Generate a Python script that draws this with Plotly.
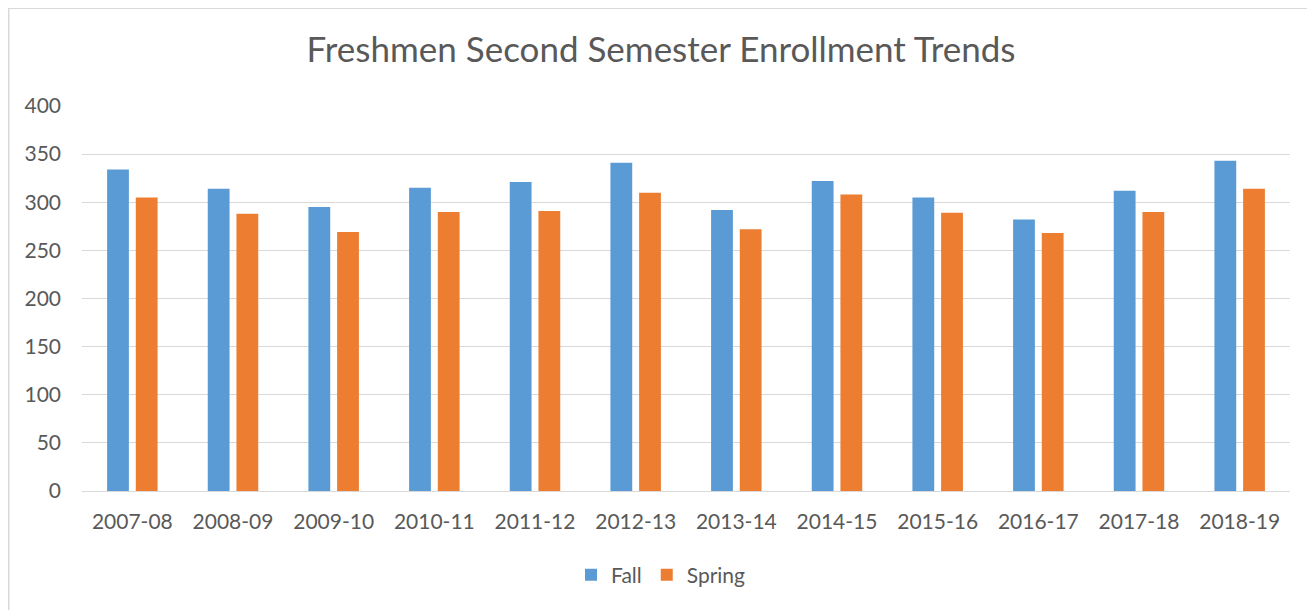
import plotly.graph_objects as go

years = ["2007-08", "2008-09", "2009-10", "2010-11", "2011-12", "2012-13",
         "2013-14", "2014-15", "2015-16", "2016-17", "2017-18", "2018-19"]
fall = [334, 314, 295, 315, 321, 341, 292, 322, 305, 282, 312, 343]
spring = [305, 288, 269, 290, 291, 310, 272, 308, 289, 268, 290, 314]

# page body has an 8px margin, so the figure starts at (8, 8)
OFF = 8
W, H = 1315 - OFF, 610 - OFF
L, R, T, B = 82 - OFF, 25, 106 - OFF, 119
pw = W - L - R
ph = H - T - B

fig = go.Figure()
fig.add_trace(go.Bar(name="Fall", x=years, y=fall, marker=dict(color="#5b9bd5", line=dict(width=0))))
fig.add_trace(go.Bar(name="Spring", x=years, y=spring, marker=dict(color="#ed7d31", line=dict(width=0))))

font = "Lato, Carlito, Calibri, sans-serif"
fig.update_layout(
    width=W, height=H,
    margin=dict(l=L, r=R, t=T, b=B),
    paper_bgcolor="white", plot_bgcolor="white",
    barmode="group", bargap=0.43, bargroupgap=0.24,
    title=dict(text="Freshmen Second Semester Enrollment Trends",
               x=(661 - OFF) / W, xanchor="center", y=1 - (50 - OFF) / H, yanchor="middle",
               font=dict(family=font, size=35, color="#595959")),
    font=dict(family=font, size=21, color="#595959"),
    legend=dict(orientation="h", x=(661 - OFF - L) / pw, xanchor="center",
                y=-(575 - 491) / ph, yanchor="middle",
                font=dict(size=21, color="#595959"), itemwidth=30,
                traceorder="normal"),
    yaxis=dict(range=[0, 400], dtick=50, showgrid=True, gridcolor="#d9d9d9",
               gridwidth=1, zeroline=True, zerolinecolor="#d9d9d9", zerolinewidth=1,
               showline=False, ticks="", ticklabelstandoff=20,
               tickfont=dict(size=21, color="#595959")),
    xaxis=dict(type="category", showline=False, ticks="",
               tickfont=dict(size=21, color="#595959"),
               ticklabelstandoff=16),
    showlegend=True,
)
# chart frame (left and top edges visible)
fig.add_shape(type="line", xref="paper", yref="paper",
              x0=(0.5 - L) / pw, x1=(0.5 - L) / pw, y0=-(H - T - ph) / ph, y1=1 + T / ph,
              line=dict(color="#d9d9d9", width=2), layer="below")
fig.add_shape(type="line", xref="paper", yref="paper",
              x0=(0 - L) / pw, x1=(W - L) / pw, y0=1 + (T - 0.5) / ph, y1=1 + (T - 0.5) / ph,
              line=dict(color="#d9d9d9", width=1), layer="below")
fig.write_html("out.html")
